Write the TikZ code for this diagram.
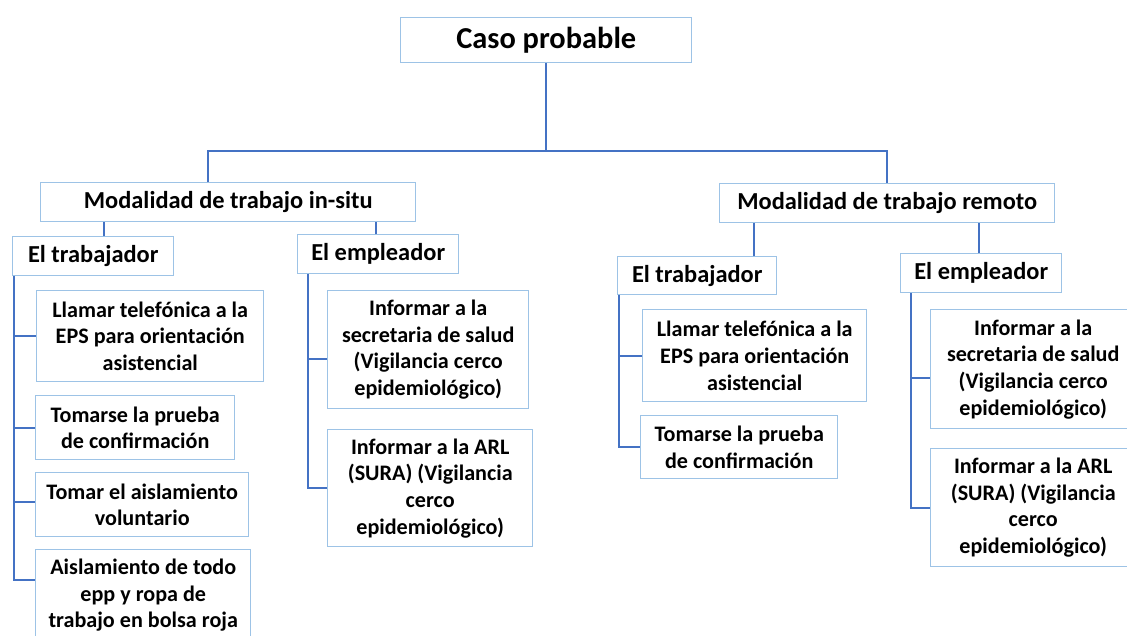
\documentclass[tikz,border=0pt]{standalone}
\usepackage{fontspec}
\setmainfont{Carlito}
\usepackage{xcolor}
\usetikzlibrary{positioning, calc}
\definecolor{boxblue}{HTML}{9DC3E6}
\definecolor{lineblue}{HTML}{4472C4}
\tikzstyle{box} = [rectangle, draw=boxblue, line width=1.1pt, fill=white, anchor=north west, inner sep=0pt, align=center, font=\bfseries]
\tikzstyle{head} = [box, font=\fontsize{18.3}{21}\selectfont\bfseries]
\tikzstyle{leaf} = [box, font=\fontsize{16.6}{20}\selectfont\bfseries]
\tikzstyle{link} = [lineblue, line width=1.5pt]
\tikzset{boxsize/.style 2 args={minimum width=#1*0.75pt, minimum height=#2*0.75pt}}

\begin{document}
\begin{tikzpicture}[x=0.75pt, y=-0.75pt]
        \path[use as bounding box] (0,0) rectangle (1127,635);
        \clip (0,0) rectangle (1127,635);
        \fill[white] (0,0) rectangle (1127,635);

        \node (root) [box, boxsize={291}{45}, font=\fontsize{22.8}{26}\selectfont\bfseries] at (400,17) {Caso probable};
        \node (insitu) [head, boxsize={375}{39}] at (40,182) {Modalidad de trabajo in-situ};
        \node (remoto) [head, boxsize={335}{39}] at (719,183) {Modalidad de trabajo remoto};

        \node (trabA) [head, boxsize={161}{39}] at (12,236) {El trabajador};
        \node (empA) [head, boxsize={161}{39}] at (297,234) {El empleador};
        \node (trabB) [head, boxsize={159}{38}] at (617,256) {El trabajador};
        \node (empB) [head, boxsize={161}{39}] at (900,253) {El empleador};

        \node (llamarA) [leaf, boxsize={227}{91}] at (36,290) {Llamar telefónica a la\\EPS para orientación\\asistencial};
        \node (pruebaA) [leaf, boxsize={199}{64}] at (35,395) {Tomarse la prueba\\de confirmación};
        \node (aislarA) [leaf, boxsize={213}{64}] at (35,472) {Tomar el aislamiento\\voluntario};
        \node (ropaA) [leaf, boxsize={215}{91}] at (35,549) {Aislamiento de todo\\epp y ropa de\\trabajo en bolsa roja};
        \node (saludA) [leaf, boxsize={201}{118}] at (327,290) {Informar a la\\secretaria de salud\\(Vigilancia cerco\\epidemiológico)};
        \node (arlA) [leaf, boxsize={205}{117}] at (327,429) {Informar a la ARL\\(SURA) (Vigilancia\\cerco\\epidemiológico)};

        \node (llamarB) [leaf, boxsize={224}{92}] at (642,309) {Llamar telefónica a la\\EPS para orientación\\asistencial};
        \node (pruebaB) [leaf, boxsize={197}{63}] at (640,415) {Tomarse la prueba\\de confirmación};
        \node (saludB) [leaf, boxsize={205}{119}] at (930,309) {Informar a la\\secretaria de salud\\(Vigilancia cerco\\epidemiológico)};
        \node (arlB) [leaf, boxsize={205}{118}] at (930,448) {Informar a la ARL\\(SURA) (Vigilancia\\cerco\\epidemiológico)};

        % top level
        \draw [link] (root.south) -- ++(0,88) coordinate (hub);
        \draw [link] (insitu.north) ++(-20.5,0) coordinate (ia) |- (hub) -| (remoto.north);

        % second level
        \draw [link] (trabA.north) ++(10.5,0) coordinate (ta) -- (ta |- insitu.south);
        \draw [link] (empA.north) ++(-2.5,0) coordinate (ea) -- (ea |- insitu.south);
        \draw [link] (trabB.north) ++(56.5,0) coordinate (tb) -- (tb |- remoto.south);
        \draw [link] (empB.north) ++(-2.5,0) coordinate (eb) -- (eb |- remoto.south);

        % leaf spines
        \coordinate (ropaIn) at ([yshift=11.6pt]ropaA.west);
        \draw [link] (trabA.south west) ++(2,0) coordinate (sa) |- (ropaIn);
        \draw [link] (sa) |- (llamarA.west);
        \draw [link] (sa) |- (pruebaA.west);
        \draw [link] (sa) |- ([yshift=2pt]aislarA.west);

        \draw [link] (empA.south west) ++(11,0) coordinate (sb) |- (arlA.west);
        \draw [link] (sb) |- ([yshift=-6.75pt]saludA.west);

        \draw [link] (trabB.south west) ++(2,0) coordinate (sc) |- (pruebaB.west);
        \draw [link] (sc) |- (llamarB.west);

        \draw [link] (empB.south west) ++(11,0) coordinate (sd) |- (arlB.west);
        \draw [link] (sd) |- ([yshift=-6.4pt]saludB.west);
    \end{tikzpicture}
\end{document}
